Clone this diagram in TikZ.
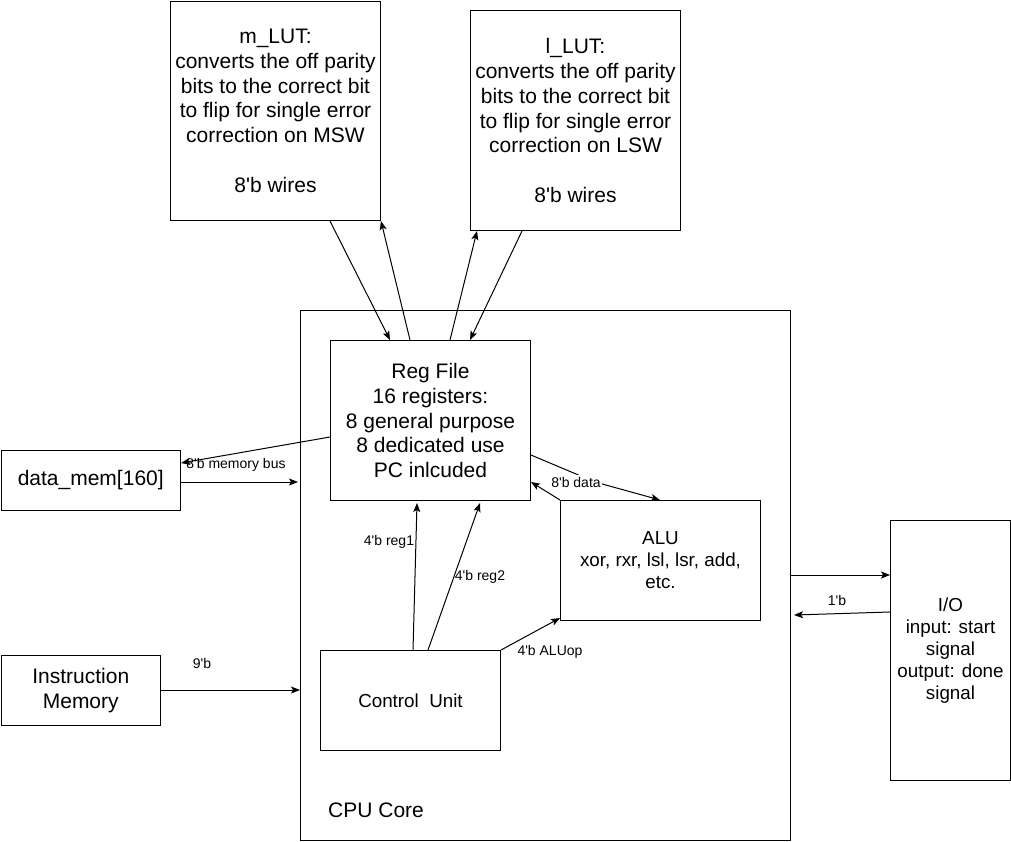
\documentclass[tikz,border=0pt]{standalone}
\usepackage{fontspec}
\setmainfont{Liberation Sans}[Ligatures=TeXOff]
\usetikzlibrary{arrows.meta,calc}
\newcommand\bigtxt{\fontsize{21}{24.8}\selectfont}
\newcommand\midtxt{\fontsize{18.8}{22}\selectfont}
\newcommand\smalltxt{\fontsize{14}{16}\selectfont}
\begin{document}
\begin{tikzpicture}[x=1pt,y=-1pt,
  box/.style={draw, line width=1pt, inner sep=0pt, align=center, font=\bigtxt, anchor=north west},
  arr/.style={-{Stealth[length=9pt,width=7pt,inset=2pt]}, line width=1pt},
  lab/.style={font=\smalltxt, inner sep=1pt}]
\useasboundingbox (0,0) rectangle (1011,841);
% boxes
\node[box, minimum width=210, minimum height=219.5] (mlut) at (170,0.5)
  {\raisebox{-2pt}{\parbox{210pt}{\centering m\_LUT:\\converts the off parity\\bits to the correct bit\\to flip for single error\\correction on MSW\\[24.8pt]8'b wires}}};
\node[box, minimum width=210, minimum height=220] (llut) at (470,10)
  {l\_LUT:\\converts the off parity\\bits to the correct bit\\to flip for single error\\correction on LSW\\[24.8pt]8'b wires};
\node[box, minimum width=490, minimum height=530] (cpu) at (300,310) {};
\node[font=\bigtxt, anchor=west, inner sep=0pt] (cpulab) at (328,810) {CPU Core};
\node[box, minimum width=200, minimum height=160] (reg) at (330,340)
  {Reg File\\16 registers:\\8 general purpose\\8 dedicated use\\PC inlcuded};
\node[box, minimum width=179.5, minimum height=60] (dmem) at (0.5,450) {data\_mem[160]};
\node[box, font=\midtxt, minimum width=200, minimum height=120] (alu) at (560,500)
  {ALU\\xor, rxr, lsl, lsr, add,\\etc.};
\node[box, minimum width=159.5, minimum height=70] (imem) at (0.5,655) {Instruction\\Memory};
\node[box, font=\midtxt, minimum width=180, minimum height=100] (cu) at (320,650) {Control\ \ Unit};
\node[box, font=\midtxt, minimum width=120, minimum height=260] (io) at (890,520)
  {I/O\\input: start\\signal\\output: done\\signal};
% LUT connectors
\draw[arr] ($(mlut.south west)+(160,0)$) -- ($(reg.north west)+(60,0)$);
\draw[arr] ($(reg.north west)+(80,0)$) -- (mlut.south east);
\draw[arr] ($(reg.north west)+(120,0)$) -- ($(llut.south west)+(7,0)$);
\draw[arr] ($(llut.south west)+(52,0)$) -- ($(reg.north west)+(140,0)$);
% data memory
\draw[arr] ($(reg.north west)+(0,97)$) -- ($(dmem.north east)+(0,13)$);
\node[lab] (lmem) at (236,465) {8'b memory bus};
\draw[arr] ($(dmem.north east)+(0,32)$) -- ($(cpu.north west)+(-2,172)$);
% reg <-> alu
\draw[arr] ($(reg.north east)+(0,115)$) -- (595,482) -- ($(alu.north west)+(100,0)$);
\node[lab, fill=white, inner ysep=2pt] (ldata) at (576,482) {8'b data};
\draw[arr] (alu.north west) -- ($(reg.north east)+(0,142)$);
% control unit
\draw[arr] ($(cu.north west)+(93,0)$) -- ($(reg.south west)+(87,2)$);
\node[lab] (lr1) at (389,542) {4'b reg1};
\draw[arr] ($(cu.north west)+(108,0)$) -- ($(reg.south west)+(150,2)$);
\node[lab] (lr2) at (480,577) {4'b reg2};
\draw[arr] (cu.north east) -- ($(alu.south west)+(0,-3)$);
\node[lab] (lop) at (550,652) {4'b ALUop};
% instruction memory
\draw[arr] ($(imem.north east)+(0,35)$) -- ($(cpu.north west)+(0,380)$);
\node[lab] (l9) at (202,663) {9'b};
% I/O
\draw[arr] ($(cpu.north east)+(0,265)$) -- ($(io.north west)+(0,55)$);
\draw[arr] ($(io.north west)+(0,92)$) -- ($(cpu.north east)+(3,305)$);
\node[lab] (l1) at (837,600) {1'b};
\end{tikzpicture}
\end{document}
